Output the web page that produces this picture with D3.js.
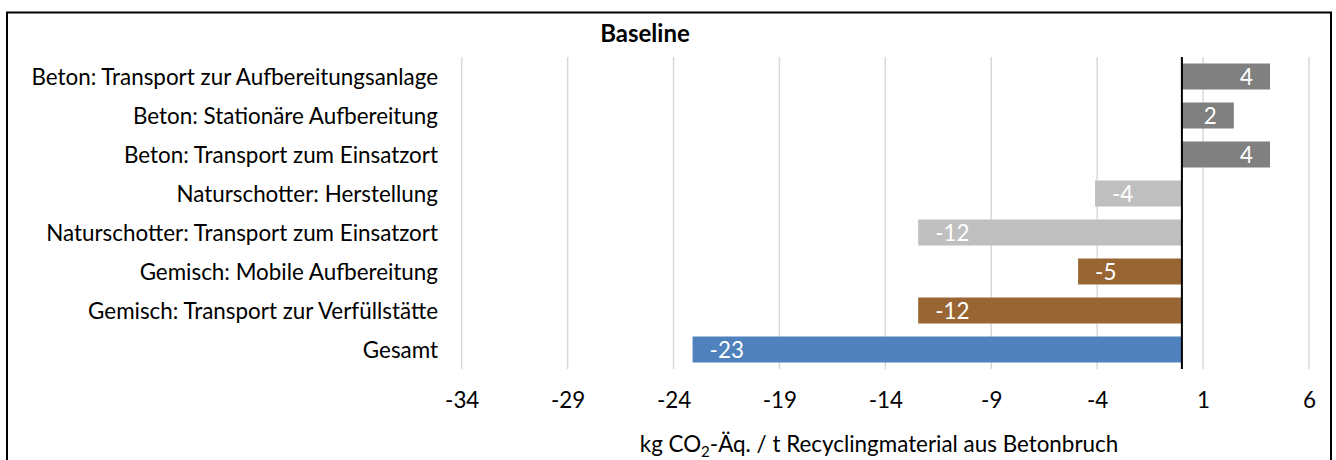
<!DOCTYPE html>
<html>
<head>
<meta charset="utf-8">
<script src="https://cdn.jsdelivr.net/npm/d3@7"></script>
<style>
  body { margin: 0; background: #fff; }
  text { font-family: Lato, "Open Sans", sans-serif; }
</style>
</head>
<body>
<div id="chart"></div>
<script>
const WIDTH = 1336;
const HEIGHT = 460;

// data
const categories = [
    "Beton: Transport zur Aufbereitungsanlage",
    "Beton: Stationäre Aufbereitung",
    "Beton: Transport zum Einsatzort",
    "Naturschotter: Herstellung",
    "Naturschotter: Transport zum Einsatzort",
    "Gemisch: Mobile Aufbereitung",
    "Gemisch: Transport zur Verfüllstätte",
    "Gesamt"
];
const values = [4.16, 2.45, 4.16, -4.1, -12.45, -4.9, -12.45, -23.1];
const groups = ["Beton", "Beton", "Beton", "Naturschotter", "Naturschotter", "Gemisch", "Gemisch", "Gesamt"];
const xTicks = [-34, -29, -24, -19, -14, -9, -4, 1, 6];

const colors = { Beton: "#808080", Naturschotter: "#bfbfbf", Gemisch: "#996633", Gesamt: "#4f81bd" };

const PLOT = { LEFT: 461.7, RIGHT: 1309, TOP: 57, BOTTOM: 369 };
const FONT_SIZE = '22.4px';

const SVG = d3.select('#chart')
    .append('svg')
    .attr('width', WIDTH)
    .attr('height', HEIGHT)

// outer chart border
SVG.append('rect')
    .attr('x', 7).attr('y', 12.5)
    .attr('width', 1324).attr('height', 480)
    .attr('fill', 'none')
    .attr('stroke', '#000')
    .attr('stroke-width', 2)

let x = d3.scaleLinear()
    .domain([-34, 6])
    .range([PLOT.LEFT, PLOT.RIGHT])

let y = d3.scaleBand()
    .domain(categories)
    .range([PLOT.TOP, PLOT.BOTTOM])
    .paddingInner(1 / 3)
    .paddingOuter(1 / 6)

// vertical gridlines
SVG.append('g')
    .selectAll('line')
    .data(xTicks)
    .enter()
    .append('line')
    .attr('x1', d => x(d)).attr('x2', d => x(d))
    .attr('y1', PLOT.TOP).attr('y2', PLOT.BOTTOM)
    .attr('stroke', '#d9d9d9')
    .attr('stroke-width', 1.5)

// x axis tick labels (no axis line), plain hyphen for negatives
const xAxis = SVG.append('g')
    .attr('transform', `translate(0, ${PLOT.BOTTOM})`)
    .call(d3.axisBottom(x).tickValues(xTicks).tickSize(0).tickPadding(23).tickFormat(d => String(d)))
xAxis.select('.domain').remove()
xAxis.selectAll('text')
    .style('font-family', 'Lato, "Open Sans", sans-serif')
    .style('font-size', FONT_SIZE)
    .attr('fill', '#000')

// bars
SVG.append('g')
    .selectAll('rect')
    .data(values)
    .enter()
    .append('rect')
    .attr('x', d => x(Math.min(0, d)))
    .attr('y', (d, i) => y(categories[i]))
    .attr('width', d => Math.abs(x(d) - x(0)))
    .attr('height', y.bandwidth())
    .attr('fill', (d, i) => colors[groups[i]])

// data labels, inside end
SVG.append('g')
    .selectAll('text')
    .data(values)
    .enter()
    .append('text')
    .attr('x', d => d >= 0 ? x(d) - 17 : x(d) + 17)
    .attr('y', (d, i) => y(categories[i]) + y.bandwidth() / 2)
    .attr('dy', '0.36em')
    .attr('text-anchor', d => d >= 0 ? 'end' : 'start')
    .attr('fill', '#fff')
    .style('font-size', FONT_SIZE)
    .text(d => String(Math.round(d)))

// zero line
SVG.append('line')
    .attr('x1', x(0)).attr('x2', x(0))
    .attr('y1', PLOT.TOP).attr('y2', PLOT.BOTTOM)
    .attr('stroke', '#000')
    .attr('stroke-width', 2)

// category labels
SVG.append('g')
    .selectAll('text')
    .data(categories)
    .enter()
    .append('text')
    .attr('x', 438)
    .attr('y', d => y(d) + y.bandwidth() / 2)
    .attr('dy', '0.36em')
    .attr('text-anchor', 'end')
    .attr('fill', '#000')
    .style('font-size', FONT_SIZE)
    .text(d => d)

// title
SVG.append('text')
    .attr('x', 645).attr('y', 42)
    .attr('text-anchor', 'middle')
    .style('font-size', '24px')
    .style('font-weight', 'bold')
    .text('Baseline')

// axis title with subscript
const axisTitle = SVG.append('text')
    .attr('x', 879).attr('y', 452)
    .attr('text-anchor', 'middle')
    .style('font-size', FONT_SIZE)
axisTitle.append('tspan').text('kg CO')
axisTitle.append('tspan').attr('dy', 5).style('font-size', '15px').text('2')
axisTitle.append('tspan').attr('dy', -5).text('-Äq. / t Recyclingmaterial aus Betonbruch')
</script>
</body>
</html>
